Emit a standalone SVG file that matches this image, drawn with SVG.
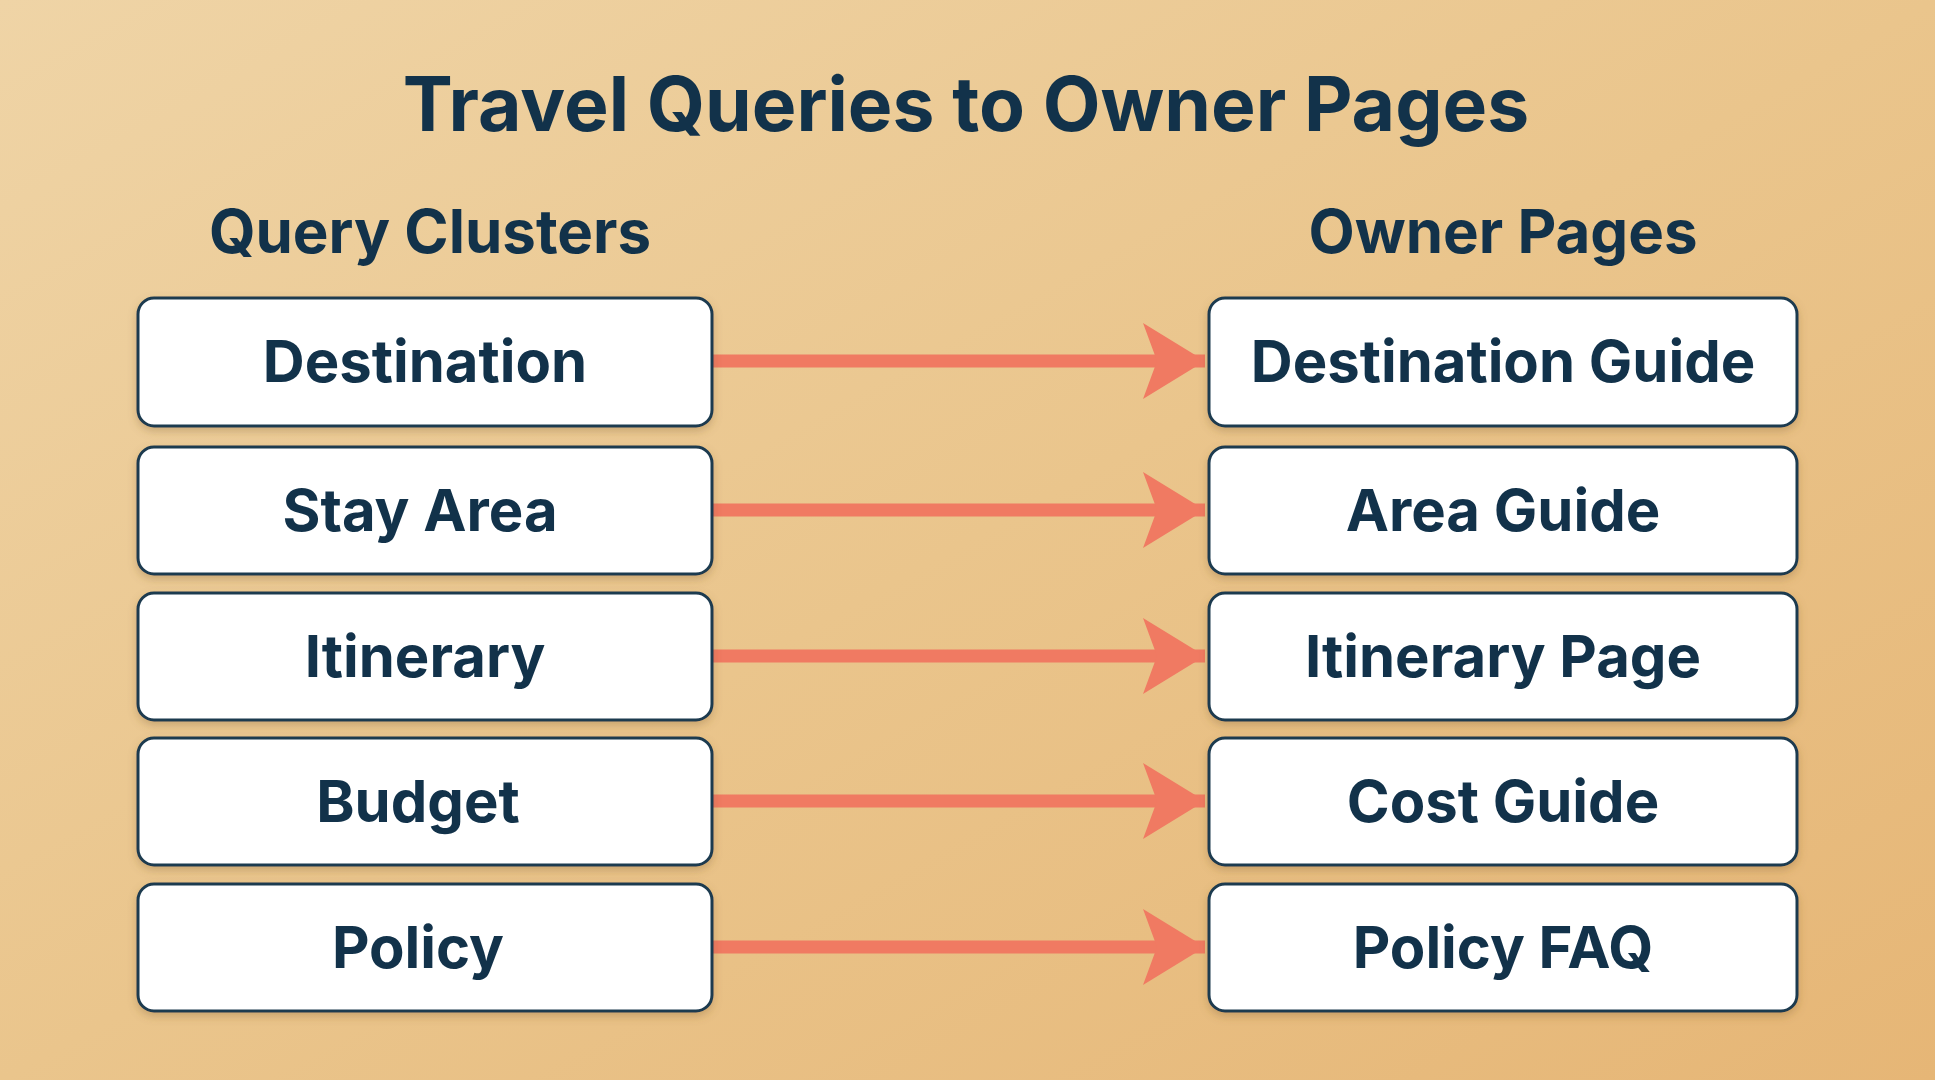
<svg xmlns="http://www.w3.org/2000/svg" width="1935" height="1080" viewBox="0 0 1935 1080">
<defs>
<linearGradient id="bg" x1="0" y1="0" x2="1" y2="1">
<stop offset="0" stop-color="#efd4a6"/><stop offset="0.5" stop-color="#eac58c"/><stop offset="1" stop-color="#e6b676"/>
</linearGradient>
<filter id="sh" x="-5%" y="-10%" width="110%" height="130%"><feDropShadow dx="0" dy="4" stdDeviation="4" flood-color="#7a5a30" flood-opacity="0.3"/></filter>
<marker id="ah" markerUnits="userSpaceOnUse" markerWidth="64" markerHeight="76" refX="62" refY="38" orient="auto"><path d="M0,0 L62,38 L0,76 L14,38 Z" fill="#f07a62"/></marker>
</defs>
<style>
.box{fill:#fff;stroke:#1d3a4f;stroke-width:3}
.lbl{font-family:Inter,"Liberation Sans",sans-serif;font-weight:700;font-size:58px;fill:#12324a;text-anchor:middle}
.hdr{font-family:Inter,"Liberation Sans",sans-serif;font-weight:700;font-size:60px;fill:#12324a;text-anchor:middle}
.arr{stroke:#f07a62;stroke-width:13;fill:none}
</style>
<rect width="1935" height="1080" fill="url(#bg)"/>
<text x="966" y="131" class="hdr" style="font-size:75px">Travel Queries to Owner Pages</text>
<text x="430" y="253" class="hdr">Query Clusters</text>
<text x="1503" y="253" class="hdr">Owner Pages</text>
<g id="connectors">
<line class="arr" x1="713" y1="361" x2="1205" y2="361" marker-end="url(#ah)"/>
<line class="arr" x1="713" y1="510" x2="1205" y2="510" marker-end="url(#ah)"/>
<line class="arr" x1="713" y1="656" x2="1205" y2="656" marker-end="url(#ah)"/>
<line class="arr" x1="713" y1="801" x2="1205" y2="801" marker-end="url(#ah)"/>
<line class="arr" x1="713" y1="947" x2="1205" y2="947" marker-end="url(#ah)"/>
</g>
<g id="q1"><rect class="box" filter="url(#sh)" x="138" y="298" width="574" height="128" rx="16"/><text class="lbl" x="425" y="382">Destination</text></g>
<g id="q2"><rect class="box" filter="url(#sh)" x="138" y="447" width="574" height="127" rx="16"/><text class="lbl" x="420" y="531">Stay Area</text></g>
<g id="q3"><rect class="box" filter="url(#sh)" x="138" y="593" width="574" height="127" rx="16"/><text class="lbl" x="425" y="677">Itinerary</text></g>
<g id="q4"><rect class="box" filter="url(#sh)" x="138" y="738" width="574" height="127" rx="16"/><text class="lbl" x="418" y="822">Budget</text></g>
<g id="q5"><rect class="box" filter="url(#sh)" x="138" y="884" width="574" height="127" rx="16"/><text class="lbl" x="418" y="968">Policy</text></g>
<g id="p1"><rect class="box" filter="url(#sh)" x="1209" y="298" width="588" height="128" rx="16"/><text class="lbl" x="1503" y="382">Destination Guide</text></g>
<g id="p2"><rect class="box" filter="url(#sh)" x="1209" y="447" width="588" height="127" rx="16"/><text class="lbl" x="1503" y="531">Area Guide</text></g>
<g id="p3"><rect class="box" filter="url(#sh)" x="1209" y="593" width="588" height="127" rx="16"/><text class="lbl" x="1503" y="677">Itinerary Page</text></g>
<g id="p4"><rect class="box" filter="url(#sh)" x="1209" y="738" width="588" height="127" rx="16"/><text class="lbl" x="1503" y="822">Cost Guide</text></g>
<g id="p5"><rect class="box" filter="url(#sh)" x="1209" y="884" width="588" height="127" rx="16"/><text class="lbl" x="1503" y="968">Policy FAQ</text></g>
</svg>
